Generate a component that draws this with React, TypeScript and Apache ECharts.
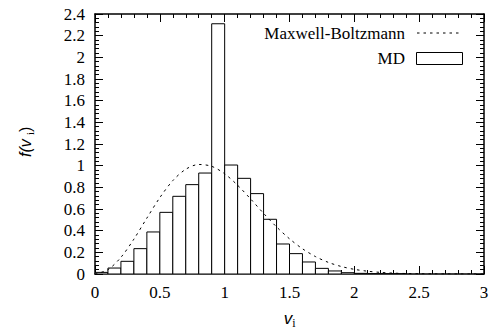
import React, { useEffect, useRef } from "react";
import * as echarts from "echarts";

// Histogram bins (start of bin, width 0.1) and heights of MD histogram
const binStarts = [0.0, 0.1, 0.2, 0.3, 0.4, 0.5, 0.6, 0.7, 0.8, 0.9, 1.0, 1.1, 1.2, 1.3, 1.4, 1.5, 1.6, 1.7, 1.8, 1.9, 2.0, 2.1, 2.2, 2.3];
const binHeights = [0.015, 0.055, 0.117, 0.234, 0.388, 0.569, 0.717, 0.825, 0.932, 2.31, 1.006, 0.883, 0.742, 0.505, 0.277, 0.188, 0.111, 0.052, 0.028, 0.012, 0.006, 0.003, 0.002, 0.001];
const binWidth = 0.1;

// Maxwell-Boltzmann curve
const mbV = [0, 0.1, 0.2, 0.3, 0.4, 0.5, 0.6, 0.7, 0.8, 0.9, 1.0, 1.1, 1.2, 1.3, 1.4, 1.5, 1.6, 1.7, 1.8, 1.9, 2.0, 2.1, 2.2, 2.3, 2.4, 2.5, 2.6, 2.7, 2.8, 2.9, 3.0];
const mbF = [0, 0.040, 0.154, 0.322, 0.516, 0.705, 0.862, 0.967, 1.011, 0.994, 0.925, 0.819, 0.693, 0.560, 0.435, 0.325, 0.233, 0.161, 0.107, 0.069, 0.043, 0.026, 0.015, 0.008, 0.0045, 0.0024, 0.0012, 0.0006, 0.0003, 0.0001, 0.0001];

const xTicks = { min: 0, max: 3, interval: 0.5 };
const yTicks = { min: 0, max: 2.4, interval: 0.2 };

const SERIF = "Liberation Serif";
const SANS = "Liberation Sans";

export default function App() {
  const ref = useRef<HTMLDivElement>(null);
  useEffect(() => {
    if (!ref.current) return;
    const chart = echarts.init(ref.current, undefined, { renderer: "svg" });
    const axisCommon = {
      type: "value" as const,
      axisLine: { show: true, onZero: false, lineStyle: { color: "#000", width: 1.5 } },
      axisTick: { show: true, inside: true, length: 8, lineStyle: { color: "#000", width: 1 } },
      minorTick: { show: true, splitNumber: 5, length: 4, lineStyle: { color: "#000", width: 1 } },
      splitLine: { show: false },
      minorSplitLine: { show: false },
    };
    const rich = { t: { fontFamily: SERIF, fontSize: 17, color: "#000" } };
    const fmt = (v: number) => `{t|${v}}`;
    const option: any = {
      animation: false,
      textStyle: { fontFamily: SERIF },
      grid: { left: 95, top: 14, right: 10, bottom: 58, containLabel: false },
      xAxis: [
        { ...axisCommon, ...xTicks, position: "bottom", axisLabel: { color: "#000", fontFamily: SERIF, fontSize: 17, margin: 10, formatter: fmt, rich } },
        { ...axisCommon, ...xTicks, position: "top", axisLabel: { show: false } },
      ],
      yAxis: [
        { ...axisCommon, ...yTicks, position: "left", axisLabel: { color: "#000", fontFamily: SERIF, fontSize: 17, margin: 10, formatter: fmt, rich } },
        { ...axisCommon, ...yTicks, position: "right", axisLabel: { show: false } },
      ],
      series: [
        {
          type: "custom",
          xAxisIndex: 0,
          yAxisIndex: 0,
          clip: true,
          data: binStarts.map((s, i) => [s, s + binWidth, binHeights[i]]),
          renderItem: (params: any, api: any) => {
            const p0 = api.coord([api.value(0), 0]);
            const p1 = api.coord([api.value(1), api.value(2)]);
            return {
              type: "rect",
              shape: { x: p0[0], y: p1[1], width: p1[0] - p0[0], height: p0[1] - p1[1] },
              style: { fill: "#fff", stroke: "#000", lineWidth: 1 },
            };
          },
        },
        {
          type: "line",
          xAxisIndex: 0,
          yAxisIndex: 0,
          smooth: 0.3,
          showSymbol: false,
          symbol: "none",
          data: mbV.map((v, i) => [v, mbF[i]]),
          lineStyle: { color: "#000", width: 1, type: [2.5, 4] },
          z: 5,
        },
      ],
      graphic: [
        // legend
        { type: "text", x: 405, y: 33, style: { text: "Maxwell-Boltzmann", font: `17px ${SERIF}`, fill: "#000", textAlign: "right", textVerticalAlign: "middle" } },
        { type: "line", shape: { x1: 417, y1: 33, x2: 462, y2: 33 }, style: { stroke: "#000", lineWidth: 1, lineDash: [2.5, 4] } },
        { type: "text", x: 405, y: 58, style: { text: "MD", font: `17px ${SERIF}`, fill: "#000", textAlign: "right", textVerticalAlign: "middle" } },
        { type: "rect", shape: { x: 416.5, y: 52.5, width: 46, height: 12 }, style: { fill: "#fff", stroke: "#000", lineWidth: 1 } },
        // x axis title
        { type: "text", x: 288, y: 318, style: { text: "v", font: `italic 17px ${SANS}`, fill: "#000", textAlign: "center", textVerticalAlign: "middle" } },
        { type: "text", x: 294, y: 323, style: { text: "i", font: `12px ${SERIF}`, fill: "#000", textAlign: "center", textVerticalAlign: "middle" } },
        // y axis title (rotated)
        {
          type: "group",
          x: 25,
          y: 143,
          rotation: Math.PI / 2,
          children: [
            { type: "text", x: -14, y: 0, style: { text: "f(v", font: `italic 16px ${SANS}`, fill: "#000", textAlign: "left", textVerticalAlign: "middle" } },
            { type: "text", x: 8, y: 5, style: { text: "i", font: `11px ${SERIF}`, fill: "#000", textAlign: "left", textVerticalAlign: "middle" } },
            { type: "text", x: 11, y: 0, style: { text: ")", font: `16px ${SANS}`, fill: "#000", textAlign: "left", textVerticalAlign: "middle" } },
          ],
        },
      ],
    };
    chart.setOption(option);
    return () => chart.dispose();
  }, []);
  return <div ref={ref} style={{ position: "absolute", left: 0, top: 0, width: 494, height: 332, background: "#fff" }} />;
}
